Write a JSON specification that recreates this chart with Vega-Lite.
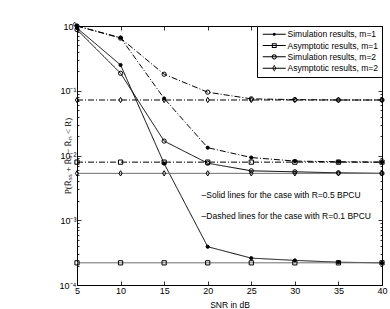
{
  "$schema": "https://vega.github.io/schema/vega-lite/v6.json",
  "width": 305,
  "height": 259,
  "autosize": "none",
  "padding": {"left": 77, "top": 26, "right": 8, "bottom": 24},
  "background": "white",
  "config": {
    "view": {"stroke": "black", "strokeWidth": 1},
    "axis": {"domainColor": "black", "tickColor": "black", "labelColor": "black", "titleColor": "black", "labelFont": "Liberation Sans", "titleFont": "Liberation Sans", "labelFontSize": 9, "titleFontSize": 8.5, "titleFontWeight": "normal", "grid": false, "domainWidth": 1, "tickWidth": 0.8}
  },
  "datasets": {
    "curves": [
      {"series": "Simulation results, m=1", "case": "R=0.5", "snr": 5, "p": 0.93},
      {"series": "Simulation results, m=1", "case": "R=0.5", "snr": 10, "p": 0.25},
      {"series": "Simulation results, m=1", "case": "R=0.5", "snr": 15, "p": 0.0075},
      {"series": "Simulation results, m=1", "case": "R=0.5", "snr": 20, "p": 0.00039},
      {"series": "Simulation results, m=1", "case": "R=0.5", "snr": 25, "p": 0.00026},
      {"series": "Simulation results, m=1", "case": "R=0.5", "snr": 30, "p": 0.00024},
      {"series": "Simulation results, m=1", "case": "R=0.5", "snr": 35, "p": 0.000225},
      {"series": "Simulation results, m=1", "case": "R=0.5", "snr": 40, "p": 0.00022},
      {"series": "Asymptotic results, m=1", "case": "R=0.5", "snr": 5, "p": 0.00022},
      {"series": "Asymptotic results, m=1", "case": "R=0.5", "snr": 10, "p": 0.00022},
      {"series": "Asymptotic results, m=1", "case": "R=0.5", "snr": 15, "p": 0.00022},
      {"series": "Asymptotic results, m=1", "case": "R=0.5", "snr": 20, "p": 0.00022},
      {"series": "Asymptotic results, m=1", "case": "R=0.5", "snr": 25, "p": 0.00022},
      {"series": "Asymptotic results, m=1", "case": "R=0.5", "snr": 30, "p": 0.00022},
      {"series": "Asymptotic results, m=1", "case": "R=0.5", "snr": 35, "p": 0.00022},
      {"series": "Asymptotic results, m=1", "case": "R=0.5", "snr": 40, "p": 0.00022},
      {"series": "Simulation results, m=2", "case": "R=0.5", "snr": 5, "p": 0.88},
      {"series": "Simulation results, m=2", "case": "R=0.5", "snr": 10, "p": 0.186},
      {"series": "Simulation results, m=2", "case": "R=0.5", "snr": 15, "p": 0.0167},
      {"series": "Simulation results, m=2", "case": "R=0.5", "snr": 20, "p": 0.0076},
      {"series": "Simulation results, m=2", "case": "R=0.5", "snr": 25, "p": 0.0058},
      {"series": "Simulation results, m=2", "case": "R=0.5", "snr": 30, "p": 0.0056},
      {"series": "Simulation results, m=2", "case": "R=0.5", "snr": 35, "p": 0.0054},
      {"series": "Simulation results, m=2", "case": "R=0.5", "snr": 40, "p": 0.0053},
      {"series": "Asymptotic results, m=2", "case": "R=0.5", "snr": 5, "p": 0.0053},
      {"series": "Asymptotic results, m=2", "case": "R=0.5", "snr": 10, "p": 0.0053},
      {"series": "Asymptotic results, m=2", "case": "R=0.5", "snr": 15, "p": 0.0053},
      {"series": "Asymptotic results, m=2", "case": "R=0.5", "snr": 20, "p": 0.0053},
      {"series": "Asymptotic results, m=2", "case": "R=0.5", "snr": 25, "p": 0.0053},
      {"series": "Asymptotic results, m=2", "case": "R=0.5", "snr": 30, "p": 0.0053},
      {"series": "Asymptotic results, m=2", "case": "R=0.5", "snr": 35, "p": 0.0053},
      {"series": "Asymptotic results, m=2", "case": "R=0.5", "snr": 40, "p": 0.0053},
      {"series": "Simulation results, m=1", "case": "R=0.1", "snr": 5, "p": 1.0},
      {"series": "Simulation results, m=1", "case": "R=0.1", "snr": 10, "p": 0.66},
      {"series": "Simulation results, m=1", "case": "R=0.1", "snr": 15, "p": 0.076},
      {"series": "Simulation results, m=1", "case": "R=0.1", "snr": 20, "p": 0.0132},
      {"series": "Simulation results, m=1", "case": "R=0.1", "snr": 25, "p": 0.0093},
      {"series": "Simulation results, m=1", "case": "R=0.1", "snr": 30, "p": 0.0082},
      {"series": "Simulation results, m=1", "case": "R=0.1", "snr": 35, "p": 0.0080},
      {"series": "Simulation results, m=1", "case": "R=0.1", "snr": 40, "p": 0.0079},
      {"series": "Asymptotic results, m=1", "case": "R=0.1", "snr": 5, "p": 0.0079},
      {"series": "Asymptotic results, m=1", "case": "R=0.1", "snr": 10, "p": 0.0079},
      {"series": "Asymptotic results, m=1", "case": "R=0.1", "snr": 15, "p": 0.0079},
      {"series": "Asymptotic results, m=1", "case": "R=0.1", "snr": 20, "p": 0.0079},
      {"series": "Asymptotic results, m=1", "case": "R=0.1", "snr": 25, "p": 0.0079},
      {"series": "Asymptotic results, m=1", "case": "R=0.1", "snr": 30, "p": 0.0079},
      {"series": "Asymptotic results, m=1", "case": "R=0.1", "snr": 35, "p": 0.0079},
      {"series": "Asymptotic results, m=1", "case": "R=0.1", "snr": 40, "p": 0.0079},
      {"series": "Simulation results, m=2", "case": "R=0.1", "snr": 5, "p": 1.0},
      {"series": "Simulation results, m=2", "case": "R=0.1", "snr": 10, "p": 0.65},
      {"series": "Simulation results, m=2", "case": "R=0.1", "snr": 15, "p": 0.18},
      {"series": "Simulation results, m=2", "case": "R=0.1", "snr": 20, "p": 0.095},
      {"series": "Simulation results, m=2", "case": "R=0.1", "snr": 25, "p": 0.075},
      {"series": "Simulation results, m=2", "case": "R=0.1", "snr": 30, "p": 0.073},
      {"series": "Simulation results, m=2", "case": "R=0.1", "snr": 35, "p": 0.072},
      {"series": "Simulation results, m=2", "case": "R=0.1", "snr": 40, "p": 0.072},
      {"series": "Asymptotic results, m=2", "case": "R=0.1", "snr": 5, "p": 0.072},
      {"series": "Asymptotic results, m=2", "case": "R=0.1", "snr": 10, "p": 0.072},
      {"series": "Asymptotic results, m=2", "case": "R=0.1", "snr": 15, "p": 0.072},
      {"series": "Asymptotic results, m=2", "case": "R=0.1", "snr": 20, "p": 0.072},
      {"series": "Asymptotic results, m=2", "case": "R=0.1", "snr": 25, "p": 0.072},
      {"series": "Asymptotic results, m=2", "case": "R=0.1", "snr": 30, "p": 0.072},
      {"series": "Asymptotic results, m=2", "case": "R=0.1", "snr": 35, "p": 0.072},
      {"series": "Asymptotic results, m=2", "case": "R=0.1", "snr": 40, "p": 0.072}
    ],
    "notes": [
      {"label": "–Solid lines for the case with R=0.5 BPCU", "snr": 19.3, "p": 0.00245},
      {"label": "–Dashed lines for the case with R=0.1 BPCU", "snr": 19.3, "p": 0.00118}
    ]
  },
  "layer": [
    {
      "data": {"name": "curves"},
      "mark": {"type": "line", "strokeWidth": 1, "clip": true},
      "encoding": {
        "x": {"field": "snr", "type": "quantitative", "scale": {"domain": [5, 40], "nice": false, "zero": false},
              "axis": {"orient": "bottom", "title": "SNR in dB", "values": [5, 10, 15, 20, 25, 30, 35, 40], "tickSize": -4, "labelPadding": 5, "titleBaseline": "middle", "titleY": 19, "labelFlush": false}},
        "y": {"field": "p", "type": "quantitative", "scale": {"type": "log", "domain": [0.0001, 1], "nice": false},
              "axis": {"orient": "left", "title": "P(R̄ₛₛ + R̄ₒ − R̄ₙ < R)", "titleFont": "Liberation Serif", "titleFontSize": 9,
                       "values": [0.0001,0.0002,0.0003,0.0004,0.0005,0.0006,0.0007,0.0008,0.0009,0.001,0.002,0.003,0.004,0.005,0.006,0.007,0.008,0.009,0.01,0.02,0.03,0.04,0.05,0.06,0.07,0.08,0.09,0.1,0.2,0.3,0.4,0.5,0.6,0.7,0.8,0.9,1],
                       "labelExpr": "datum.value==1?'10⁰':datum.value==0.1?'10⁻¹':datum.value==0.01?'10⁻²':datum.value==0.001?'10⁻³':datum.value==0.0001?'10⁻⁴':''",
                       "tickSize": {"condition": {"test": "datum.value==1||datum.value==0.1||datum.value==0.01||datum.value==0.001||datum.value==0.0001", "value": -4}, "value": -2},
                       "labelPadding": 5, "titleAngle": -90, "titleBaseline": "middle", "titlePadding": -8, "labelFlush": false, "labelOverlap": false}},
        "detail": [{"field": "series"}, {"field": "case"}],
        "strokeDash": {"field": "case", "type": "nominal", "scale": {"domain": ["R=0.5", "R=0.1"], "range": [[1, 0], [6, 2, 1, 2]]}, "legend": null},
        "color": {"condition": {"test": "indexof(datum.series,'Asymptotic')>=0 && datum.case==='R=0.5'", "value": "#6e6e6e"}, "value": "black"}
      }
    },
    {
      "data": {"name": "curves"},
      "mark": {"type": "point", "filled": false, "strokeWidth": 1, "opacity": 1},
      "encoding": {
        "x": {"field": "snr", "type": "quantitative", "axis": {"orient": "top", "title": null, "labels": false, "values": [5, 10, 15, 20, 25, 30, 35, 40], "tickSize": -4}},
        "y": {"field": "p", "type": "quantitative",
              "axis": {"orient": "right", "title": null, "labels": false,
                       "values": [0.0001,0.0002,0.0003,0.0004,0.0005,0.0006,0.0007,0.0008,0.0009,0.001,0.002,0.003,0.004,0.005,0.006,0.007,0.008,0.009,0.01,0.02,0.03,0.04,0.05,0.06,0.07,0.08,0.09,0.1,0.2,0.3,0.4,0.5,0.6,0.7,0.8,0.9,1],
                       "tickSize": {"condition": {"test": "datum.value==1||datum.value==0.1||datum.value==0.01||datum.value==0.001||datum.value==0.0001", "value": -4}, "value": -2}}},
        "shape": {"field": "series", "type": "nominal",
                  "scale": {"domain": ["Simulation results, m=1", "Asymptotic results, m=1", "Simulation results, m=2", "Asymptotic results, m=2"],
                            "range": ["circle", "square", "circle", "M0,-1.25L0.75,0L0,1.25L-0.75,0Z"]},
                  "legend": null},
        "size": {"condition": {"test": "datum.series==='Simulation results, m=1'", "value": 10}, "value": 18},
        "fill": {"condition": {"test": "datum.series==='Simulation results, m=1'", "value": "black"}, "value": "transparent"},
        "stroke": {"value": "black"}
      }
    },
    {
      "data": {"name": "curves"},
      "mark": {"type": "point", "filled": true, "color": "black", "opacity": 0},
      "encoding": {
        "x": {"field": "snr", "type": "quantitative", "axis": null},
        "y": {"field": "p", "type": "quantitative", "scale": {"type": "log"}, "axis": null},
        "shape": {"field": "series", "type": "nominal",
                  "scale": {"domain": ["Simulation results, m=1", "Asymptotic results, m=1", "Simulation results, m=2", "Asymptotic results, m=2"],
                            "range": [
                              "M-3.83,-0.17H3.83V0.17H-3.83Z M0.53,0A0.53,0.53,0,1,1,-0.53,0A0.53,0.53,0,1,1,0.53,0Z",
                              "M-3.83,-0.17H3.83V0.17H-3.83Z M-0.8,-0.8H0.8V0.8H-0.8Z M-0.47,-0.47V0.47H0.47V-0.47Z",
                              "M-3.83,-0.17H3.83V0.17H-3.83Z M0.87,0A0.87,0.87,0,1,1,-0.87,0A0.87,0.87,0,1,1,0.87,0Z M0.54,0A0.54,0.54,0,1,0,-0.54,0A0.54,0.54,0,1,0,0.54,0Z",
                              "M-3.83,-0.17H3.83V0.17H-3.83Z M0,-1.1L0.7,0L0,1.1L-0.7,0Z M0,-0.72L-0.38,0L0,0.72L0.38,0Z"
                            ]},
                  "legend": {"title": null, "orient": "top-right", "offset": 0, "padding": 4, "strokeColor": "black", "fillColor": "white",
                             "labelFont": "Liberation Sans", "labelFontSize": 8.5, "labelColor": "black", "symbolSize": 36, "symbolOpacity": 1, "symbolFillColor": "black", "symbolStrokeWidth": 0, "symbolOffset": 9, "labelOffset": 9, "rowPadding": 2.3}}
      }
    },
    {
      "data": {"name": "notes"},
      "mark": {"type": "text", "align": "left", "baseline": "middle", "font": "Liberation Sans", "fontSize": 8.5, "color": "black"},
      "encoding": {
        "x": {"field": "snr", "type": "quantitative", "axis": null},
        "y": {"field": "p", "type": "quantitative", "scale": {"type": "log"}, "axis": null},
        "text": {"field": "label"}
      }
    }
  ],
  "resolve": {"axis": {"x": "independent", "y": "independent"}, "scale": {"shape": "independent"}}
}
